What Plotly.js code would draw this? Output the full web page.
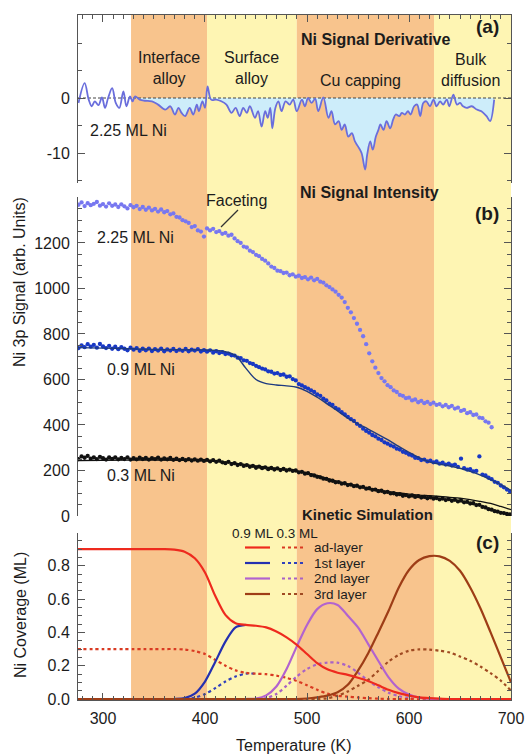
<!DOCTYPE html>
<html><head><meta charset="utf-8">
<script src="https://cdn.plot.ly/plotly-3.0.1.min.js"></script>
<style>html,body{margin:0;padding:0;background:#fff;}#chart{width:527px;height:754px;}</style>
</head><body><div id="chart"></div>
<script>
// ---------- DATA ----------
// Background regions (K)
const regionStart = [327.5, 402, 490, 624.5];
const regionEnd   = [402, 490, 624.5, 700];
const regionKind  = ['orange', 'yellow', 'orange', 'yellow'];

// Temperature tick labels
const tempTicks = [300, 400, 500, 600, 700];

// (a) Ni signal derivative, 2.25 ML Ni
const derivT = [
 276, 282, 286, 289, 292, 295.5, 299, 302, 305, 309,
 312.5, 316, 320, 323, 326.5, 329, 331.5, 336, 341, 348,
 354, 361, 366, 370.5, 374, 377, 380.5, 385, 388.5, 392,
 394, 397.5, 400, 402.5, 406, 411, 416, 421, 426, 430,
 434, 437.5, 441, 444, 449, 452, 455.5, 459, 461.5, 464,
 466, 469, 472, 475, 479, 483, 486.5, 490, 495, 498,
 501, 504.5, 508, 511, 516, 521, 524, 527.5, 531, 534,
 537, 540.5, 544, 547, 550, 553.5, 557, 559, 562, 564.5,
 567.5, 570, 572, 575, 578, 581.5, 584.5, 587, 590.5, 593,
 596, 599, 601.5, 605, 608, 611, 614, 617, 620.5, 624,
 627, 630.5, 633.5, 637, 639.5, 643.5, 647, 650, 653, 656.5,
 661.5, 666.5, 671, 676, 679.5, 683.5];
const derivV = [
 -0.9, 2.7, -0.3, -1.5, -0.6, -1.3, 0.1, -1.8, 0.0, 1.8,
 -0.9, -1.8, 1.2, -1.5, 0.3, -0.6, 0.3, -0.3, -0.5, -0.6,
 -1.2, -2.1, -1.5, -3.0, -1.8, -2.7, -3.3, -1.8, -3.0, -1.2,
 -2.4, -0.6, -1.8, 2.1, -0.3, -0.3, -0.6, -1.2, -2.7, -1.8,
 -3.3, -1.8, -2.7, -1.5, -3.6, -2.4, -5.2, -2.4, -3.6, -1.8,
 -5.5, -1.8, -0.6, -2.4, -0.6, -1.2, -0.3, -2.4, -0.3, -1.5,
 0.0, -0.9, -0.1, -2.4, 0.1, -3.6, -2.4, -4.8, -4.2, -5.8,
 -4.8, -7.0, -6.4, -7.9, -8.8, -10.0, -13.0, -10.3, -7.9, -9.4,
 -7.0, -5.8, -4.8, -5.8, -4.2, -5.5, -3.9, -3.0, -3.3, -2.7,
 -3.0, -2.4, -3.0, -1.5, -1.2, -3.3, -0.9, -0.6, -1.5, -0.3,
 -1.5, -0.6, -1.2, -0.3, -1.5, 0.6, -1.2, -0.9, -1.5, -1.8,
 -1.5, -2.1, -2.4, -3.3, -4.2, -0.3];

// (b) Ni 3p signal intensity
const sigT = [
 276,279,282,285,288,291,294,297,300,303,
 306,309,312,315,318,321,324,327,330,333,
 336,339,342,345,348,351,354,357,360,363,
 366,369,372,375,378,381,384,387,390,393,
 396,399,402,405,408,411,414,417,420,423,
 426,429,432,435,438,441,444,447,450,453,
 456,459,462,465,468,471,474,477,480,483,
 486,489,492,495,498,501,504,507,510,513,
 516,519,522,525,528,531,534,537,540,543,
 546,549,552,555,558,561,564,567,570,573,
 576,579,582,585,588,591,594,597,600,603,
 606,609,612,615,618,621,624,627,630,633,
 636,639,642,645,648,651,654,657,660,663,
 666,669,672,675,678,681,684,687,690,693,
 696,699];
const sig225 = [
 1368,1378,1362,1375,1366,1372,1380,1364,1371,1360,
 1374,1363,1369,1358,1370,1361,1352,1366,1357,1363,
 1349,1358,1346,1355,1343,1350,1338,1347,1335,1340,
 1326,1330,1315,1312,1300,1295,1288,1270,1274,1255,
 1250,1228,1264,1255,1262,1248,1252,1240,1244,1232,
 1236,1220,1208,1200,1184,1180,1166,1160,1148,1142,
 1130,1122,1110,1096,1090,1078,1076,1068,1070,1058,
 1062,1052,1056,1046,1050,1040,1048,1036,1042,1030,
 1026,1014,1006,996,986,972,960,940,915,895,
 870,845,818,790,755,715,680,652,628,606,
 592,575,566,552,545,532,528,518,520,508,
 512,500,506,496,502,492,498,488,492,482,
 488,478,484,472,476,462,466,452,456,444,
 446,432,430,416,410,390,null,null,null,null,
 null,null];
const sig09 = [
 738,750,742,755,744,752,740,756,745,738,
 748,735,744,733,742,735,728,740,731,738,
 726,735,728,736,725,733,727,735,724,732,
 727,734,725,731,726,734,724,731,727,733,
 723,729,722,728,718,724,716,720,712,714,
 706,705,696,694,684,682,672,668,660,654,
 648,644,636,634,626,628,620,622,612,614,
 602,596,580,574,566,560,552,545,534,528,
 516,508,494,488,475,468,456,447,436,426,
 418,405,396,384,374,366,356,350,340,334,
 324,318,310,305,296,292,282,278,270,266,
 256,254,246,248,240,243,236,240,230,234,
 226,230,222,226,216,252,210,204,206,196,
 198,262,182,178,168,162,150,146,134,126,
 116,108];
const sig03 = [
 250,262,256,264,252,258,250,260,254,248,
 257,251,258,249,255,250,258,248,254,249,
 256,250,255,248,254,250,256,248,253,249,
 255,247,252,246,251,245,250,244,249,243,
 248,242,247,240,246,238,243,236,232,238,
 228,232,224,228,220,224,216,220,212,217,
 210,214,206,211,204,209,202,207,200,204,
 198,200,192,194,186,188,180,178,172,170,
 164,163,156,155,148,149,142,144,136,138,
 131,133,126,128,120,122,115,116,109,111,
 104,106,99,100,94,96,89,92,86,90,
 84,87,81,84,78,82,76,79,73,77,
 70,74,67,71,64,68,60,62,55,56,
 48,49,40,38,30,28,21,19,14,13,
 9,7];
// kinetic-model fits to the signal
const fitT  = [275,300,325,350,375,400,410,420,430,440,450,460,470,480,490,500,510,520,530,540,550,560,570,580,590,600,610,620,630,640,650,660,670,680,690,700];
const fit09 = [740,738,735,732,731,730,728,722,705,650,600,582,576,572,566,548,522,492,462,430,405,382,358,333,306,280,256,238,228,220,210,196,180,160,138,112];
const fit03 = [243,245,246,246,245,243,240,237,232,226,220,215,210,205,198,190,178,165,152,141,131,122,114,107,101,96,92,89,86,82,78,72,64,55,42,28];

// (c) Kinetic simulation, Ni coverage (ML)
const simT = [275,280,290,300,310,320,330,340,350,360,370,380,390,400,410,420,430,440,450,460,470,480,490,500,510,520,530,540,550,560,570,580,590,600,610,620,630,640,650,660,670,680,690,700];
const ad09 = [0.9,0.9,0.9,0.9,0.9,0.9,0.9,0.9,0.9,0.9,0.897,0.885,0.845,0.76,0.62,0.505,0.455,0.445,0.44,0.43,0.405,0.37,0.325,0.27,0.215,0.178,0.158,0.145,0.128,0.108,0.082,0.055,0.035,0.02,0.01,0.005,0.002,0,0,0,0,0,0,0];
const ad03 = [0.3,0.3,0.3,0.3,0.3,0.3,0.3,0.3,0.3,0.3,0.3,0.297,0.288,0.27,0.235,0.2,0.172,0.157,0.152,0.149,0.14,0.127,0.108,0.083,0.055,0.032,0.02,0.014,0.009,0.005,0.002,0,0,0,0,0,0,0,0,0,0,0,0,0];
const first09 = [0,0,0,0,0,0,0,0,0,0,0,0.005,0.032,0.105,0.222,0.345,0.43,0.445,null,null,null,null,null,null,null,null,null,null,null,null,null,null,null,null,null,null,null,null,null,null,null,null,null,null];
const first03 = [0,0,0,0,0,0,0,0,0,0,0,0,0.008,0.03,0.065,0.105,0.135,0.152,0.152,null,null,null,null,null,null,null,null,null,null,null,null,null,null,null,null,null,null,null,null,null,null,null,null,null];
const second09 = [0,0,0,0,0,0,0,0,0,0,0,0,0,0,0,0,0,0,0.003,0.022,0.075,0.18,0.316,0.445,0.54,0.575,0.565,0.5,0.43,0.33,0.228,0.13,0.062,0.027,0.008,0.002,0,0,0,0,0,0,0,0];
const second03 = [0,0,0,0,0,0,0,0,0,0,0,0,0,0,0,0,0,0,0,0.005,0.03,0.08,0.135,0.18,0.208,0.219,0.218,0.198,0.158,0.11,0.07,0.038,0.017,0.006,0,0,0,0,0,0,0,0,0,0];
const third09 = [0,0,0,0,0,0,0,0,0,0,0,0,0,0,0,0,0,0,0,0,0,0,0,0.003,0.01,0.02,0.04,0.085,0.17,0.275,0.4,0.53,0.67,0.775,0.835,0.858,0.857,0.83,0.77,0.67,0.545,0.4,0.25,0.1];
const third03 = [0,0,0,0,0,0,0,0,0,0,0,0,0,0,0,0,0,0,0,0,0,0,0,0,0,0.005,0.02,0.045,0.08,0.115,0.17,0.225,0.265,0.29,0.298,0.297,0.29,0.279,0.255,0.23,0.195,0.155,0.11,0.05];
const layerNames = ['ad-layer', '1st layer', '2nd layer', '3rd layer'];

// ---------- LAYOUT HELPERS ----------
const W = 527, H = 754, ML = 78, MR = 16, MT = 15, MB = 54;
const PW = W - ML - MR, PH = H - MT - MB;
const px = x => (x - ML) / PW;
const py = y => (H - MB - y) / PH;
const FONT = 'Liberation Sans, Arial, Helvetica, sans-serif';
const INK = '#1c1c1c', AX = '#555';
const COL = {orange: '#F8C48D', yellow: '#FEF5B3'};
const layerCol = ['#EE2A1E', '#2430B0', '#B263CF', '#9E3D16'];
const layerColDot = ['#D93A22', '#3040BC', '#A862C6', '#A04A22'];

const traces = [];
// (a)
const fillT = [], fillV = [];
derivT.forEach((t, i) => { if (t >= 329) { fillT.push(t); fillV.push(Math.min(derivV[i], 0)); } });
traces.push({x: fillT, y: fillV, xaxis: 'x2', yaxis: 'y', type: 'scatter', mode: 'lines',
  fill: 'tozeroy', fillcolor: '#CDEDFA', line: {width: 0, color: 'rgba(0,0,0,0)', shape: 'spline', smoothing: 1}});
traces.push({x: [275.5, 700], y: [0, 0], xaxis: 'x2', yaxis: 'y', type: 'scatter', mode: 'lines',
  line: {color: '#444', width: 1, dash: '3px,2px'}});
traces.push({x: derivT, y: derivV, xaxis: 'x2', yaxis: 'y', type: 'scatter', mode: 'lines',
  line: {color: '#6A6EDC', width: 1.8, shape: 'spline', smoothing: 1}});
// (b)
const mk = (y, c) => ({x: sigT, y: y, xaxis: 'x', yaxis: 'y2', type: 'scatter', mode: 'markers',
  marker: {color: c, size: 4.3}});
traces.push(mk(sig225, '#7777F0'));
traces.push(mk(sig09, '#1838C4'));
traces.push(mk(sig03, '#111111'));
traces.push({x: fitT, y: fit09, xaxis: 'x', yaxis: 'y2', type: 'scatter', mode: 'lines',
  line: {color: '#1E3A80', width: 1.4, shape: 'spline'}});
traces.push({x: fitT, y: fit03, xaxis: 'x', yaxis: 'y2', type: 'scatter', mode: 'lines',
  line: {color: '#111', width: 1.3, shape: 'spline'}});
// (c)
const sim = (y, c, dash) => ({x: simT, y: y, xaxis: 'x', yaxis: 'y3', type: 'scatter', mode: 'lines',
  line: {color: c, width: 2.2, dash: dash, shape: 'spline', smoothing: 0.8}, connectgaps: false});
traces.push(sim(second03, layerColDot[2], 'dot'));
traces.push(sim(first03, layerColDot[1], 'dot'));
traces.push(sim(ad03, layerColDot[0], 'dot'));
traces.push(sim(third03, layerColDot[3], 'dot'));
traces.push(sim(second09, layerCol[2], 'solid'));
traces.push(sim(first09, layerCol[1], 'solid'));
traces.push(sim(third09, layerCol[3], 'solid'));
traces.push(sim(ad09, layerCol[0], 'solid'));

// shapes
const shapes = [];
regionStart.forEach((s, i) => shapes.push({type: 'rect', xref: 'x', yref: 'paper', x0: s, x1: regionEnd[i],
  y0: 0, y1: 1, fillcolor: COL[regionKind[i]], line: {width: 0}, layer: 'below'}));
shapes.push({type: 'line', xref: 'paper', yref: 'paper', x0: px(221), y0: py(227), x1: px(238), y1: py(210),
  line: {color: '#333', width: 1.2}});
const legRows = [547.5, 563, 578.5, 594];
legRows.forEach((r, i) => {
  shapes.push({type: 'line', xref: 'paper', yref: 'paper', x0: px(245), x1: px(270), y0: py(r), y1: py(r),
    line: {color: layerCol[i], width: 2.2}});
  shapes.push({type: 'line', xref: 'paper', yref: 'paper', x0: px(282), x1: px(305), y0: py(r), y1: py(r),
    line: {color: layerColDot[i], width: 2.2, dash: 'dot'}});
});

// annotations
const annotations = [];
function ann(text, x, y, size, opts) {
  annotations.push(Object.assign({text: text, x: px(x), y: py(y), xref: 'paper', yref: 'paper',
    showarrow: false, xanchor: 'center', yanchor: 'middle',
    font: {family: FONT, size: size, color: INK}}, opts || {}));
}
ann('<b>(a)</b>', 487, 27, 19);
ann('<b>Ni Signal Derivative</b>', 375, 40, 16);
ann('Interface<br>alloy', 169, 68, 16);
ann('Surface<br>alloy', 251, 68, 16);
ann('Cu capping', 360, 80, 16);
ann('Bulk<br>diffusion', 470, 70, 16);
ann('2.25 ML Ni', 88, 130, 16, {xanchor: 'left'});
ann('<b>Ni Signal Intensity</b>', 369, 192, 16);
ann('Faceting', 236, 200, 16);
ann('<b>(b)</b>', 487, 213, 19);
ann('2.25 ML Ni', 95, 237, 16, {xanchor: 'left'});
ann('0.9 ML Ni', 105, 370, 16, {xanchor: 'left'});
ann('0.3 ML Ni', 105, 475, 16, {xanchor: 'left'});
ann('<b>Kinetic Simulation</b>', 367, 514, 15);
ann('0.9 ML 0.3 ML', 275, 533, 13.5);
ann('<b>(c)</b>', 487, 542, 19);
legRows.forEach((r, i) => ann(layerNames[i], 312, r, 13.5, {xanchor: 'left'}));
ann('Ni 3p Signal (arb. Units)', 20, 282, 16, {textangle: -90});
ann('Ni Coverage (ML)', 20, 615, 16, {textangle: -90});
ann('Temperature (K)', 294, 745, 16);

const baseY = {showline: true, linecolor: AX, linewidth: 1, mirror: 'ticks', ticks: 'inside', ticklen: 7,
  tickcolor: AX, tickwidth: 1, showgrid: false, zeroline: false, fixedrange: true,
  tickfont: {family: FONT, size: 16, color: INK}, ticklabelstandoff: 4};
const baseX = {range: [275.5, 700], showline: true, linecolor: AX, linewidth: 1, ticks: 'inside', ticklen: 7,
  tickcolor: AX, tickwidth: 1, showgrid: false, zeroline: false, tickmode: 'array', tickvals: tempTicks,
  minor: {dtick: 10, tick0: 0, ticks: 'inside', ticklen: 4, tickcolor: AX},
  tickfont: {family: FONT, size: 16, color: INK}};

const layout = {
  width: W, height: H, margin: {l: ML, r: MR, t: MT, b: MB, pad: 0},
  paper_bgcolor: '#ffffff', plot_bgcolor: 'rgba(0,0,0,0)', showlegend: false, hovermode: false,
  font: {family: FONT, color: INK},
  xaxis: Object.assign({}, baseX, {domain: [0, 1], anchor: 'y3', ticklabelstandoff: 4}),
  xaxis2: Object.assign({}, baseX, {domain: [0, 1], anchor: 'y', side: 'top', showticklabels: false}),
  yaxis: Object.assign({}, baseY, {domain: [py(183), 1], anchor: 'x2', range: [-15.45, 15.09],
    tickmode: 'array', tickvals: [-10, 0], ticktext: ['-10', '0'],
    minor: {dtick: 5, tick0: 0, ticks: 'inside', ticklen: 4, tickcolor: AX}}),
  yaxis2: Object.assign({}, baseY, {domain: [py(516), py(197)], anchor: 'x', range: [0, 1402],
    tickmode: 'array', tickvals: [0, 200, 400, 600, 800, 1000, 1200],
    minor: {dtick: 50, tick0: 0, ticks: 'inside', ticklen: 4, tickcolor: AX}}),
  yaxis3: Object.assign({}, baseY, {domain: [0, py(533)], anchor: 'x', range: [-0.006, 0.997],
    tickmode: 'array', tickvals: [0, 0.2, 0.4, 0.6, 0.8], ticktext: ['0.0', '0.2', '0.4', '0.6', '0.8'],
    minor: {dtick: 0.05, tick0: 0, ticks: 'inside', ticklen: 4, tickcolor: AX}}),
  shapes: shapes, annotations: annotations
};
Plotly.newPlot('chart', traces, layout, {staticPlot: true, displayModeBar: false});
</script></body></html>
